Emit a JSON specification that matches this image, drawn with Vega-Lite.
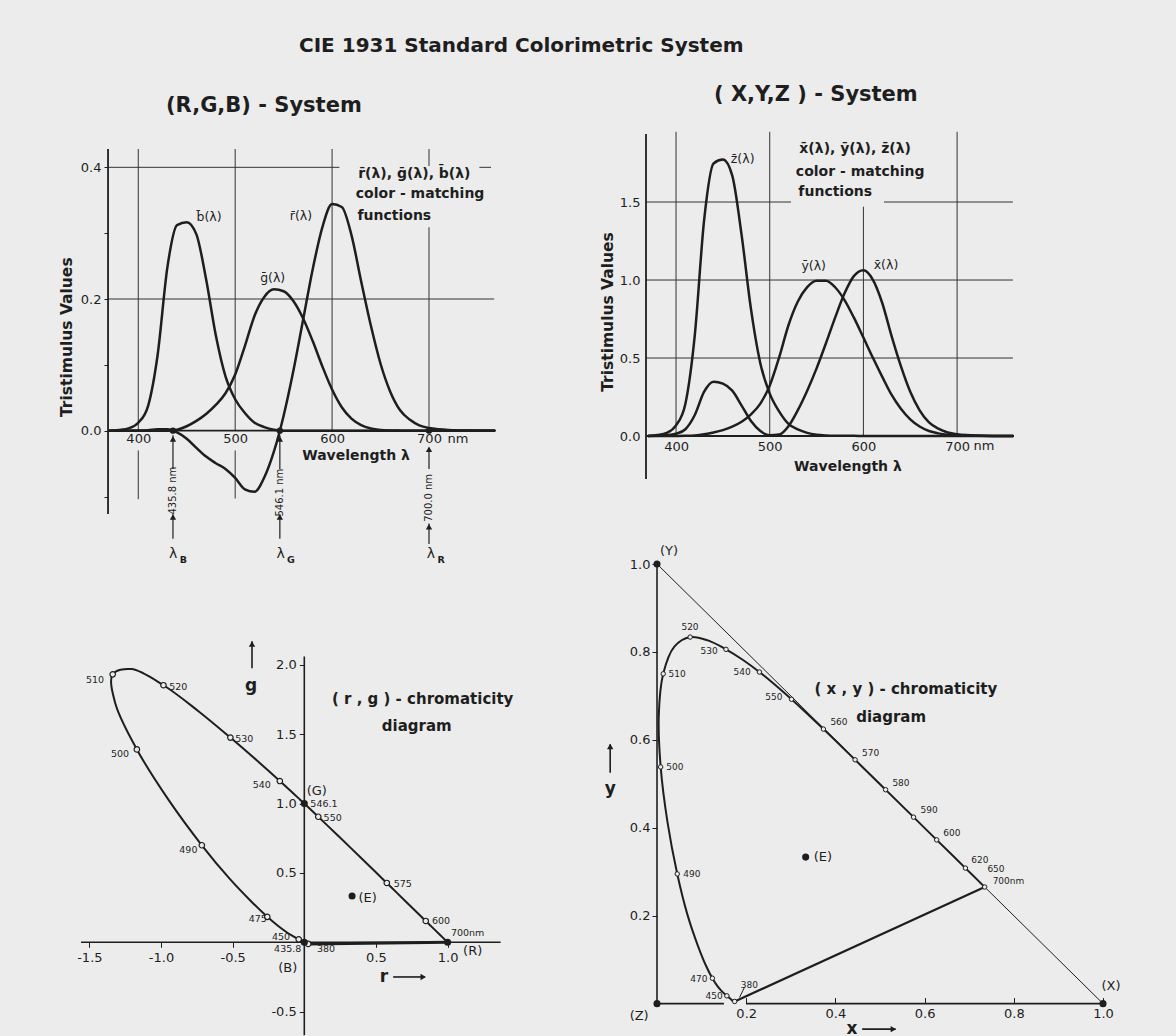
{
"$schema": "https://vega.github.io/schema/vega-lite/v6.json",
"background": "#ececec",
"padding": {"left": 60, "top": 36, "right": 70, "bottom": 12},
"title": {"text": "CIE 1931 Standard Colorimetric System", "anchor": "start", "frame": "group", "dx": 218, "offset": 28, "fontSize": 20, "font": "DejaVu Sans", "fontWeight": "bold", "color": "#1e1e1e"},
"config": {
  "font": "DejaVu Sans",
  "view": {"stroke": null},
  "axis": {"domain": false, "grid": false, "labelFont": "DejaVu Sans", "labelColor": "#1e1e1e", "tickColor": "#1e1e1e", "labelFontSize": 13},
  "text": {"font": "DejaVu Sans", "color": "#1e1e1e"},
  "rule": {"color": "#1e1e1e"},
  "line": {"color": "#1e1e1e"},
  "point": {"color": "#1e1e1e", "opacity": 1}
},
"datasets": {
  "rgb": [
    {"wl":370,"r":0,"g":0,"b":0},
    {"wl":380,"r":0.00003,"g":0,"b":0.00117},
    {"wl":390,"r":0.0001,"g":0,"b":0.00359},
    {"wl":400,"r":0.0003,"g":0,"b":0.01214},
    {"wl":410,"r":0.00084,"g":0,"b":0.03707},
    {"wl":420,"r":0.00211,"g":0,"b":0.11541},
    {"wl":430,"r":0.00218,"g":0,"b":0.24769},
    {"wl":440,"r":-0.00261,"g":0.00149,"b":0.31228},
    {"wl":450,"r":-0.01213,"g":0.00678,"b":0.3167},
    {"wl":460,"r":-0.02608,"g":0.01485,"b":0.29821},
    {"wl":470,"r":-0.03933,"g":0.02538,"b":0.22991},
    {"wl":480,"r":-0.04939,"g":0.03914,"b":0.14494},
    {"wl":490,"r":-0.05814,"g":0.05689,"b":0.08257},
    {"wl":500,"r":-0.07173,"g":0.08536,"b":0.04776},
    {"wl":510,"r":-0.08901,"g":0.1286,"b":0.02698},
    {"wl":520,"r":-0.09264,"g":0.17468,"b":0.01221},
    {"wl":530,"r":-0.07101,"g":0.20317,"b":0.00549},
    {"wl":540,"r":-0.03152,"g":0.21466,"b":0.00146},
    {"wl":550,"r":0.02279,"g":0.21178,"b":0},
    {"wl":560,"r":0.0906,"g":0.19702,"b":0},
    {"wl":570,"r":0.16768,"g":0.17087,"b":0},
    {"wl":580,"r":0.24526,"g":0.1361,"b":0},
    {"wl":590,"r":0.30928,"g":0.09754,"b":0},
    {"wl":600,"r":0.34429,"g":0.06246,"b":0},
    {"wl":610,"r":0.33971,"g":0.03557,"b":0},
    {"wl":620,"r":0.29708,"g":0.01828,"b":0},
    {"wl":630,"r":0.22677,"g":0.00833,"b":0},
    {"wl":640,"r":0.15968,"g":0.00334,"b":0},
    {"wl":650,"r":0.10167,"g":0.00116,"b":0},
    {"wl":660,"r":0.05932,"g":0.00037,"b":0},
    {"wl":670,"r":0.03149,"g":0.00011,"b":0},
    {"wl":680,"r":0.01687,"g":0.00003,"b":0},
    {"wl":690,"r":0.00819,"g":0,"b":0},
    {"wl":700,"r":0.0041,"g":0,"b":0},
    {"wl":710,"r":0.00211,"g":0,"b":0},
    {"wl":720,"r":0.00105,"g":0,"b":0},
    {"wl":740,"r":0.00025,"g":0,"b":0},
    {"wl":768,"r":0,"g":0,"b":0}
  ],
  "xyz": [
    {"wl":370,"x":0,"y":0,"z":0},
    {"wl":380,"x":0.0014,"y":0,"z":0.0065},
    {"wl":390,"x":0.0042,"y":0.0001,"z":0.0201},
    {"wl":400,"x":0.0143,"y":0.0004,"z":0.0679},
    {"wl":410,"x":0.0435,"y":0.0012,"z":0.2074},
    {"wl":420,"x":0.1344,"y":0.004,"z":0.6456},
    {"wl":430,"x":0.2839,"y":0.0116,"z":1.3856},
    {"wl":440,"x":0.3483,"y":0.023,"z":1.7471},
    {"wl":450,"x":0.3362,"y":0.038,"z":1.7721},
    {"wl":460,"x":0.2908,"y":0.06,"z":1.6692},
    {"wl":470,"x":0.1954,"y":0.091,"z":1.2876},
    {"wl":480,"x":0.0956,"y":0.139,"z":0.813},
    {"wl":490,"x":0.032,"y":0.208,"z":0.4652},
    {"wl":500,"x":0.0049,"y":0.323,"z":0.272},
    {"wl":510,"x":0.0093,"y":0.503,"z":0.1582},
    {"wl":520,"x":0.0633,"y":0.71,"z":0.0782},
    {"wl":530,"x":0.1655,"y":0.862,"z":0.0422},
    {"wl":540,"x":0.2904,"y":0.954,"z":0.0203},
    {"wl":550,"x":0.4334,"y":0.995,"z":0.0087},
    {"wl":560,"x":0.5945,"y":0.995,"z":0.0039},
    {"wl":570,"x":0.7621,"y":0.952,"z":0.0021},
    {"wl":580,"x":0.9163,"y":0.87,"z":0.0017},
    {"wl":590,"x":1.0263,"y":0.757,"z":0.0011},
    {"wl":600,"x":1.0622,"y":0.631,"z":0.0008},
    {"wl":610,"x":1.0026,"y":0.503,"z":0.0003},
    {"wl":620,"x":0.8544,"y":0.381,"z":0.0002},
    {"wl":630,"x":0.6424,"y":0.265,"z":0},
    {"wl":640,"x":0.4479,"y":0.175,"z":0},
    {"wl":650,"x":0.2835,"y":0.107,"z":0},
    {"wl":660,"x":0.1649,"y":0.061,"z":0},
    {"wl":670,"x":0.0874,"y":0.032,"z":0},
    {"wl":680,"x":0.0468,"y":0.017,"z":0},
    {"wl":690,"x":0.0227,"y":0.0082,"z":0},
    {"wl":700,"x":0.0114,"y":0.0041,"z":0},
    {"wl":710,"x":0.0058,"y":0.0021,"z":0},
    {"wl":720,"x":0.0029,"y":0.001,"z":0},
    {"wl":740,"x":0.0007,"y":0.0002,"z":0},
    {"wl":760,"x":0,"y":0,"z":0}
  ],
  "rg_locus": [
    {"wl":380,"x":0.0272,"y":-0.0115},
    {"wl":400,"x":0.0244,"y":-0.0114},
    {"wl":420,"x":0.0181,"y":-0.0094},
    {"wl":430,"x":0.0088,"y":-0.0048},
    {"wl":435.8,"x":0,"y":0},
    {"wl":440,"x":-0.0084,"y":0.0048},
    {"wl":450,"x":-0.039,"y":0.0218},
    {"wl":460,"x":-0.0909,"y":0.0517},
    {"wl":465,"x":-0.1281,"y":0.0762},
    {"wl":470,"x":-0.1821,"y":0.1175},
    {"wl":475,"x":-0.2584,"y":0.1839},
    {"wl":480,"x":-0.3667,"y":0.2906},
    {"wl":485,"x":-0.5199,"y":0.4568},
    {"wl":490,"x":-0.715,"y":0.6996},
    {"wl":495,"x":-0.946,"y":1.0248},
    {"wl":500,"x":-1.1684,"y":1.3904},
    {"wl":505,"x":-1.318,"y":1.7194},
    {"wl":510,"x":-1.3371,"y":1.9318},
    {"wl":515,"x":-1.2075,"y":1.9698},
    {"wl":520,"x":-0.9829,"y":1.8534},
    {"wl":525,"x":-0.7387,"y":1.6663},
    {"wl":530,"x":-0.5159,"y":1.476},
    {"wl":535,"x":-0.3305,"y":1.3106},
    {"wl":540,"x":-0.1707,"y":1.1628},
    {"wl":545,"x":-0.0293,"y":1.0282},
    {"wl":546.1,"x":0,"y":1},
    {"wl":550,"x":0.0974,"y":0.9051},
    {"wl":555,"x":0.2121,"y":0.7919},
    {"wl":560,"x":0.3164,"y":0.6881},
    {"wl":570,"x":0.4973,"y":0.5067},
    {"wl":575,"x":0.5758,"y":0.4276},
    {"wl":580,"x":0.6449,"y":0.3579},
    {"wl":590,"x":0.7617,"y":0.2402},
    {"wl":600,"x":0.8475,"y":0.1537},
    {"wl":610,"x":0.9059,"y":0.0949},
    {"wl":620,"x":0.9425,"y":0.058},
    {"wl":630,"x":0.9649,"y":0.0354},
    {"wl":640,"x":0.9797,"y":0.0205},
    {"wl":650,"x":0.9887,"y":0.0113},
    {"wl":660,"x":0.9938,"y":0.0062},
    {"wl":680,"x":0.999,"y":0.0015},
    {"wl":700,"x":1,"y":0}
  ],
  "rg_open": [
    {"wl":380,"x":0.0272,"y":-0.0115},
    {"wl":450,"x":-0.039,"y":0.0218},
    {"wl":475,"x":-0.2584,"y":0.1839},
    {"wl":490,"x":-0.715,"y":0.6996},
    {"wl":500,"x":-1.1684,"y":1.3904},
    {"wl":510,"x":-1.3371,"y":1.9318},
    {"wl":520,"x":-0.9829,"y":1.8534},
    {"wl":530,"x":-0.5159,"y":1.476},
    {"wl":540,"x":-0.1707,"y":1.1628},
    {"wl":550,"x":0.0974,"y":0.9051},
    {"wl":575,"x":0.5758,"y":0.4276},
    {"wl":600,"x":0.8475,"y":0.1537}
  ],
  "xy_locus": [
    {"wl":380,"x":0.1741,"y":0.005},
    {"wl":390,"x":0.1738,"y":0.0049},
    {"wl":400,"x":0.1733,"y":0.0048},
    {"wl":410,"x":0.1726,"y":0.0048},
    {"wl":420,"x":0.1714,"y":0.0051},
    {"wl":430,"x":0.1689,"y":0.0069},
    {"wl":440,"x":0.1644,"y":0.0109},
    {"wl":450,"x":0.1566,"y":0.0177},
    {"wl":460,"x":0.144,"y":0.0297},
    {"wl":465,"x":0.1355,"y":0.0399},
    {"wl":470,"x":0.1241,"y":0.0578},
    {"wl":475,"x":0.1096,"y":0.0868},
    {"wl":480,"x":0.0913,"y":0.1327},
    {"wl":485,"x":0.0687,"y":0.2007},
    {"wl":490,"x":0.0454,"y":0.295},
    {"wl":495,"x":0.0235,"y":0.4127},
    {"wl":500,"x":0.0082,"y":0.5384},
    {"wl":505,"x":0.0039,"y":0.6548},
    {"wl":510,"x":0.0139,"y":0.7502},
    {"wl":515,"x":0.0389,"y":0.812},
    {"wl":520,"x":0.0743,"y":0.8338},
    {"wl":525,"x":0.1142,"y":0.8262},
    {"wl":530,"x":0.1547,"y":0.8059},
    {"wl":535,"x":0.1929,"y":0.7816},
    {"wl":540,"x":0.2296,"y":0.7543},
    {"wl":545,"x":0.2658,"y":0.7243},
    {"wl":550,"x":0.3016,"y":0.6923},
    {"wl":560,"x":0.3731,"y":0.6245},
    {"wl":570,"x":0.4441,"y":0.5547},
    {"wl":580,"x":0.5125,"y":0.4866},
    {"wl":590,"x":0.5752,"y":0.4242},
    {"wl":600,"x":0.627,"y":0.3725},
    {"wl":610,"x":0.6658,"y":0.334},
    {"wl":620,"x":0.6915,"y":0.3083},
    {"wl":630,"x":0.7079,"y":0.292},
    {"wl":640,"x":0.719,"y":0.2809},
    {"wl":650,"x":0.726,"y":0.274},
    {"wl":660,"x":0.73,"y":0.27},
    {"wl":680,"x":0.7334,"y":0.2666},
    {"wl":700,"x":0.7347,"y":0.2653}
  ],
  "xy_open": [
    {"wl":380,"x":0.1741,"y":0.005},
    {"wl":450,"x":0.1566,"y":0.0177},
    {"wl":470,"x":0.1241,"y":0.0578},
    {"wl":490,"x":0.0454,"y":0.295},
    {"wl":500,"x":0.0082,"y":0.5384},
    {"wl":510,"x":0.0139,"y":0.7502},
    {"wl":520,"x":0.0743,"y":0.8338},
    {"wl":530,"x":0.1547,"y":0.8059},
    {"wl":540,"x":0.2296,"y":0.7543},
    {"wl":550,"x":0.3016,"y":0.6923},
    {"wl":560,"x":0.3731,"y":0.6245},
    {"wl":570,"x":0.4441,"y":0.5547},
    {"wl":580,"x":0.5125,"y":0.4866},
    {"wl":590,"x":0.5752,"y":0.4242},
    {"wl":600,"x":0.627,"y":0.3725},
    {"wl":620,"x":0.6915,"y":0.3083},
    {"wl":700,"x":0.7347,"y":0.2653}
  ],
  "p1_grid": [
    {"x":400,"x2":400,"y":0,"y2":0.4278},
    {"x":400,"x2":400,"y":-0.104,"y2":-0.03},
    {"x":500,"x2":500,"y":0,"y2":0.4278},
    {"x":500,"x2":500,"y":-0.103,"y2":-0.03},
    {"x":600,"x2":600,"y":0,"y2":0.4278},
    {"x":700,"x2":700,"y":0.402,"y2":0.4278},
    {"x":700,"x2":700,"y":0,"y2":0.309},
    {"x":368.8,"x2":607.5,"y":0.4,"y2":0.4},
    {"x":752,"x2":764,"y":0.4,"y2":0.4},
    {"x":368.8,"x2":767.3,"y":0.2,"y2":0.2}
  ],
  "p1_axes": [
    {"x":368.8,"x2":368.8,"y":-0.1265,"y2":0.4278},
    {"x":368.8,"x2":769.1,"y":0,"y2":0}
  ],
  "p1_arrows": [
    {"x":435.8,"x2":435.8,"y":-0.007,"y2":-0.058},
    {"x":435.8,"x2":435.8,"y":-0.127,"y2":-0.164},
    {"x":546.1,"x2":546.1,"y":-0.007,"y2":-0.058},
    {"x":546.1,"x2":546.1,"y":-0.127,"y2":-0.164},
    {"x":700,"x2":700,"y":-0.028,"y2":-0.058},
    {"x":700,"x2":700,"y":-0.141,"y2":-0.172}
  ],
  "p1_heads": [
    {"x":435.8,"y":-0.0126},{"x":435.8,"y":-0.131},
    {"x":546.1,"y":-0.0126},{"x":546.1,"y":-0.131},
    {"x":700,"y":-0.028},{"x":700,"y":-0.146}
  ],
  "p1_dots": [{"x":435.8,"y":0},{"x":546.1,"y":0},{"x":700,"y":0}],
  "p1_curvelab": [
    {"x":473,"y":0.3242,"text":"b\u0304(\u03bb)"},
    {"x":567.9,"y":0.3265,"text":"r\u0304(\u03bb)"},
    {"x":538.7,"y":0.2314,"text":"g\u0304(\u03bb)"}
  ],
  "p1_block": [
    {"x":684.9,"y":0.3898,"text":"r\u0304(\u03bb), g\u0304(\u03bb), b\u0304(\u03bb)"},
    {"x":690.8,"y":0.3594,"text":"color - matching"},
    {"x":664.2,"y":0.3256,"text":"functions"},
    {"x":624.7,"y":-0.039,"text":"Wavelength \u03bb"}
  ],
  "p1_unit": [{"x":730,"y":-0.0127,"text":"nm"}],
  "p1_ytitle": [{"x":326.5,"y":0.142,"text":"Tristimulus Values"}],
  "p1_nm": [
    {"x":435.8,"y":-0.091,"text":"435.8 nm"},
    {"x":546.1,"y":-0.094,"text":"546.1 nm"},
    {"x":700,"y":-0.102,"text":"700.0 nm"}
  ],
  "p1_lam": [
    {"x":436,"y":-0.187,"text":"\u03bb"},
    {"x":547,"y":-0.187,"text":"\u03bb"},
    {"x":702,"y":-0.187,"text":"\u03bb"}
  ],
  "p1_sub": [
    {"x":446.5,"y":-0.197,"text":"B"},
    {"x":557.5,"y":-0.197,"text":"G"},
    {"x":712.5,"y":-0.197,"text":"R"}
  ],
  "p2_grid": [
    {"x":400,"x2":400,"y":0,"y2":1.95},
    {"x":500,"x2":500,"y":0,"y2":1.95},
    {"x":600,"x2":600,"y":0,"y2":1.47},
    {"x":700,"x2":700,"y":0,"y2":1.95},
    {"x":367.94,"x2":759.6,"y":0.5,"y2":0.5},
    {"x":367.94,"x2":759.6,"y":1,"y2":1},
    {"x":367.94,"x2":522.7,"y":1.5,"y2":1.5},
    {"x":622,"x2":759.6,"y":1.5,"y2":1.5}
  ],
  "p2_axes": [
    {"x":367.94,"x2":367.94,"y":-0.2755,"y2":1.936},
    {"x":367.94,"x2":760.7,"y":0,"y2":0}
  ],
  "p2_curvelab": [
    {"x":471.1,"y":1.776,"text":"z\u0304(\u03bb)"},
    {"x":546.9,"y":1.092,"text":"y\u0304(\u03bb)"},
    {"x":624.1,"y":1.096,"text":"x\u0304(\u03bb)"}
  ],
  "p2_block": [
    {"x":591.2,"y":1.84,"text":"x\u0304(\u03bb), y\u0304(\u03bb), z\u0304(\u03bb)"},
    {"x":596.5,"y":1.694,"text":"color - matching"},
    {"x":569.9,"y":1.562,"text":"functions"},
    {"x":583.5,"y":-0.199,"text":"Wavelength \u03bb"}
  ],
  "p2_unit": [{"x":728.7,"y":-0.067,"text":"nm"}],
  "p2_ytitle": [{"x":327.4,"y":0.795,"text":"Tristimulus Values"}],
  "p3_axes": [
    {"x":-1.5583,"x2":1.37,"y":0,"y2":0},
    {"x":0,"x2":0,"y":-0.67,"y2":2.06},
    {"x":-0.365,"x2":-0.365,"y":1.975,"y2":2.17},
    {"x":0.62,"x2":0.84,"y":-0.25,"y2":-0.25}
  ],
  "p3_purple": [{"x":1,"x2":0.0272,"y":0,"y2":-0.0115}],
  "p3_headup": [{"x":-0.365,"y":2.15}],
  "p3_headright": [{"x":0.83,"y":-0.25}],
  "p3_filled": [{"x":0,"y":1},{"x":1,"y":0},{"x":0,"y":0},{"x":0.3333,"y":0.3333}],
  "p3_small": [
    {"x":-1.461,"y":1.893,"text":"510"},
    {"x":-0.879,"y":1.838,"text":"520"},
    {"x":-0.419,"y":1.466,"text":"530"},
    {"x":-1.286,"y":1.358,"text":"500"},
    {"x":-0.297,"y":1.134,"text":"540"},
    {"x":0.137,"y":0.997,"text":"546.1"},
    {"x":0.198,"y":0.894,"text":"550"},
    {"x":-0.809,"y":0.665,"text":"490"},
    {"x":0.687,"y":0.42,"text":"575"},
    {"x":-0.325,"y":0.168,"text":"475"},
    {"x":0.954,"y":0.156,"text":"600"},
    {"x":1.14,"y":0.067,"text":"700nm"},
    {"x":-0.163,"y":0.036,"text":"450"},
    {"x":-0.116,"y":-0.048,"text":"435.8"},
    {"x":0.151,"y":-0.048,"text":"380"}
  ],
  "p3_mid": [
    {"x":0.087,"y":1.089,"text":"(G)"},
    {"x":0.442,"y":0.317,"text":"(E)"},
    {"x":1.175,"y":-0.065,"text":"(R)"},
    {"x":-0.116,"y":-0.188,"text":"(B)"}
  ],
  "p3_big": [
    {"x":0.826,"y":1.754,"text":"( r , g ) - chromaticity"},
    {"x":0.785,"y":1.562,"text":"diagram"}
  ],
  "p3_letters": [
    {"x":-0.372,"y":1.846,"text":"g"},
    {"x":0.556,"y":-0.25,"text":"r"}
  ],
  "p4_axes": [
    {"x":0,"x2":0,"y":0,"y2":1},
    {"x":0,"x2":0.15,"y":0,"y2":0},
    {"x":0.2,"x2":1,"y":0,"y2":0},
    {"x":-0.105,"x2":-0.105,"y":0.525,"y2":0.59},
    {"x":0.46,"x2":0.535,"y":-0.058,"y2":-0.058}
  ],
  "p4_thin": [
    {"x":0,"x2":1,"y":1,"y2":0},
    {"x":0.185,"x2":0.196,"y":0.014,"y2":0.037}
  ],
  "p4_purple": [{"x":0.1741,"x2":0.7347,"y":0.005,"y2":0.2653}],
  "p4_headup": [{"x":-0.105,"y":0.585}],
  "p4_headright": [{"x":0.53,"y":-0.058}],
  "p4_filled": [{"x":0,"y":1},{"x":1,"y":0},{"x":0,"y":0},{"x":0.3333,"y":0.3333}],
  "p4_small": [
    {"x":0.074,"y":0.856,"text":"520"},
    {"x":0.117,"y":0.801,"text":"530"},
    {"x":0.191,"y":0.754,"text":"540"},
    {"x":0.262,"y":0.697,"text":"550"},
    {"x":0.408,"y":0.641,"text":"560"},
    {"x":0.479,"y":0.57,"text":"570"},
    {"x":0.547,"y":0.502,"text":"580"},
    {"x":0.61,"y":0.44,"text":"590"},
    {"x":0.661,"y":0.388,"text":"600"},
    {"x":0.724,"y":0.327,"text":"620"},
    {"x":0.76,"y":0.306,"text":"650"},
    {"x":0.788,"y":0.28,"text":"700nm"},
    {"x":0.045,"y":0.75,"text":"510"},
    {"x":0.04,"y":0.538,"text":"500"},
    {"x":0.078,"y":0.295,"text":"490"},
    {"x":0.094,"y":0.056,"text":"470"},
    {"x":0.128,"y":0.017,"text":"450"},
    {"x":0.207,"y":0.042,"text":"380"}
  ],
  "p4_mid": [
    {"x":0.027,"y":1.03,"text":"(Y)"},
    {"x":1.018,"y":0.04,"text":"(X)"},
    {"x":-0.04,"y":-0.029,"text":"(Z)"},
    {"x":0.372,"y":0.333,"text":"(E)"}
  ],
  "p4_big": [
    {"x":0.558,"y":0.716,"text":"( x , y ) - chromaticity"},
    {"x":0.525,"y":0.652,"text":"diagram"}
  ],
  "p4_letters": [
    {"x":-0.105,"y":0.488,"text":"y"},
    {"x":0.437,"y":-0.058,"text":"x"}
  ]
},
"bounds": "flush",
"align": "each",
"columns": 2,
"spacing": {"row": 25, "column": 140},
"concat": [
  {
    "width": 420, "height": 380,
    "title": {"text": "(R,G,B) - System", "anchor": "start", "frame": "group", "dx": 85, "offset": 18, "fontSize": 21, "fontWeight": "bold", "font": "DejaVu Sans", "color": "#1e1e1e"},
    "layer": [
      {"data": {"name": "p1_grid"}, "mark": {"type": "rule", "strokeWidth": 1, "color": "#333333"},
       "encoding": {
         "x": {"field": "x", "type": "quantitative", "scale": {"domain": [340.9, 774.3], "nice": false, "zero": false},
               "axis": {"title": null, "values": [400, 500, 600, 700], "ticks": false, "offset": -83.3, "labelPadding": 2}},
         "y": {"field": "y", "type": "quantitative", "scale": {"domain": [-0.1265, 0.4506], "nice": false, "zero": false},
               "axis": {"title": null, "values": [-0.1, 0, 0.1, 0.2, 0.3, 0.4], "tickSize": 4, "offset": -27, "labelPadding": 3,
                        "labelExpr": "(datum.value == 0 || datum.value == 0.2 || datum.value == 0.4) ? format(datum.value, '.1f') : ''"}},
         "x2": {"field": "x2"}, "y2": {"field": "y2"}}},
      {"data": {"name": "p1_axes"}, "mark": {"type": "rule", "strokeWidth": 1.8},
       "encoding": {"x": {"field": "x", "type": "quantitative"}, "y": {"field": "y", "type": "quantitative"}, "x2": {"field": "x2"}, "y2": {"field": "y2"}}},
      {"data": {"name": "p1_arrows"}, "mark": {"type": "rule", "strokeWidth": 1.2},
       "encoding": {"x": {"field": "x", "type": "quantitative"}, "y": {"field": "y", "type": "quantitative"}, "x2": {"field": "x2"}, "y2": {"field": "y2"}}},
      {"data": {"name": "rgb"}, "transform": [{"fold": ["r", "g", "b"], "as": ["fn", "v"]}],
       "mark": {"type": "line", "interpolate": "monotone", "strokeWidth": 2.5},
       "encoding": {"x": {"field": "wl", "type": "quantitative"}, "y": {"field": "v", "type": "quantitative"}, "detail": {"field": "fn"}}},
      {"data": {"name": "p1_heads"}, "mark": {"type": "point", "shape": "triangle-up", "filled": true, "size": 40},
       "encoding": {"x": {"field": "x", "type": "quantitative"}, "y": {"field": "y", "type": "quantitative"}}},
      {"data": {"name": "p1_dots"}, "mark": {"type": "point", "shape": "circle", "filled": true, "size": 40},
       "encoding": {"x": {"field": "x", "type": "quantitative"}, "y": {"field": "y", "type": "quantitative"}}},
      {"data": {"name": "p1_curvelab"}, "mark": {"type": "text", "fontSize": 12.5},
       "encoding": {"x": {"field": "x", "type": "quantitative"}, "y": {"field": "y", "type": "quantitative"}, "text": {"field": "text"}}},
      {"data": {"name": "p1_block"}, "mark": {"type": "text", "fontSize": 14, "fontWeight": "bold"},
       "encoding": {"x": {"field": "x", "type": "quantitative"}, "y": {"field": "y", "type": "quantitative"}, "text": {"field": "text"}}},
      {"data": {"name": "p1_unit"}, "mark": {"type": "text", "fontSize": 13},
       "encoding": {"x": {"field": "x", "type": "quantitative"}, "y": {"field": "y", "type": "quantitative"}, "text": {"field": "text"}}},
      {"data": {"name": "p1_ytitle"}, "mark": {"type": "text", "fontSize": 15.5, "fontWeight": "bold", "angle": 270},
       "encoding": {"x": {"field": "x", "type": "quantitative"}, "y": {"field": "y", "type": "quantitative"}, "text": {"field": "text"}}},
      {"data": {"name": "p1_nm"}, "mark": {"type": "text", "fontSize": 10, "angle": 270},
       "encoding": {"x": {"field": "x", "type": "quantitative"}, "y": {"field": "y", "type": "quantitative"}, "text": {"field": "text"}}},
      {"data": {"name": "p1_lam"}, "mark": {"type": "text", "fontSize": 14},
       "encoding": {"x": {"field": "x", "type": "quantitative"}, "y": {"field": "y", "type": "quantitative"}, "text": {"field": "text"}}},
      {"data": {"name": "p1_sub"}, "mark": {"type": "text", "fontSize": 9.5, "fontWeight": "bold"},
       "encoding": {"x": {"field": "x", "type": "quantitative"}, "y": {"field": "y", "type": "quantitative"}, "text": {"field": "text"}}}
    ]
  },
  {
    "width": 380, "height": 345,
    "title": {"text": "( X,Y,Z ) - System", "anchor": "start", "frame": "group", "dx": 73, "offset": 26, "fontSize": 21, "fontWeight": "bold", "font": "DejaVu Sans", "color": "#1e1e1e"},
    "layer": [
      {"data": {"name": "p2_grid"}, "mark": {"type": "rule", "strokeWidth": 1, "color": "#333333"},
       "encoding": {
         "x": {"field": "x", "type": "quantitative", "scale": {"domain": [362.6, 768.2], "nice": false, "zero": false},
               "axis": {"title": null, "values": [400, 500, 600, 700], "ticks": false, "offset": -43, "labelPadding": 4}},
         "y": {"field": "y", "type": "quantitative", "scale": {"domain": [-0.2755, 1.936], "nice": false, "zero": false},
               "axis": {"title": null, "values": [0, 0.5, 1, 1.5], "ticks": false, "offset": -5, "labelPadding": 6, "format": ".1f"}},
         "x2": {"field": "x2"}, "y2": {"field": "y2"}}},
      {"data": {"name": "p2_axes"}, "mark": {"type": "rule", "strokeWidth": 1.8},
       "encoding": {"x": {"field": "x", "type": "quantitative"}, "y": {"field": "y", "type": "quantitative"}, "x2": {"field": "x2"}, "y2": {"field": "y2"}}},
      {"data": {"name": "xyz"}, "transform": [{"fold": ["x", "y", "z"], "as": ["fn", "v"]}],
       "mark": {"type": "line", "interpolate": "monotone", "strokeWidth": 2.5},
       "encoding": {"x": {"field": "wl", "type": "quantitative"}, "y": {"field": "v", "type": "quantitative"}, "detail": {"field": "fn"}}},
      {"data": {"name": "p2_curvelab"}, "mark": {"type": "text", "fontSize": 12.5},
       "encoding": {"x": {"field": "x", "type": "quantitative"}, "y": {"field": "y", "type": "quantitative"}, "text": {"field": "text"}}},
      {"data": {"name": "p2_block"}, "mark": {"type": "text", "fontSize": 14, "fontWeight": "bold"},
       "encoding": {"x": {"field": "x", "type": "quantitative"}, "y": {"field": "y", "type": "quantitative"}, "text": {"field": "text"}}},
      {"data": {"name": "p2_unit"}, "mark": {"type": "text", "fontSize": 13},
       "encoding": {"x": {"field": "x", "type": "quantitative"}, "y": {"field": "y", "type": "quantitative"}, "text": {"field": "text"}}},
      {"data": {"name": "p2_ytitle"}, "mark": {"type": "text", "fontSize": 15.5, "fontWeight": "bold", "angle": 270},
       "encoding": {"x": {"field": "x", "type": "quantitative"}, "y": {"field": "y", "type": "quantitative"}, "text": {"field": "text"}}}
    ]
  },
  {
    "width": 420, "height": 485,
    "layer": [
      {"data": {"name": "p3_axes"}, "mark": {"type": "rule", "strokeWidth": 1.6},
       "encoding": {
         "x": {"field": "x", "type": "quantitative", "scale": {"domain": [-1.5583, 1.3726], "nice": false, "zero": false},
               "axis": {"title": null, "values": [-1.5, -1, -0.5, 0.5, 1], "tickSize": 5, "offset": -81.7, "labelPadding": 4,
                        "labelExpr": "datum.value < 0 ? '-' + format(-datum.value, '.1f') : format(datum.value, '.1f')"}},
         "y": {"field": "y", "type": "quantitative", "scale": {"domain": [-0.5891, 2.9077], "nice": false, "zero": false},
               "axis": {"title": null, "values": [-0.5, 0.5, 1, 1.5, 2], "tickSize": 5, "offset": -223.3, "labelPadding": 3,
                        "labelExpr": "datum.value < 0 ? '-' + format(-datum.value, '.1f') : format(datum.value, '.1f')"}},
         "x2": {"field": "x2"}, "y2": {"field": "y2"}}},
      {"data": {"name": "p3_purple"}, "mark": {"type": "rule", "strokeWidth": 3},
       "encoding": {"x": {"field": "x", "type": "quantitative"}, "y": {"field": "y", "type": "quantitative"}, "x2": {"field": "x2"}, "y2": {"field": "y2"}}},
      {"data": {"name": "rg_locus"}, "mark": {"type": "line", "interpolate": "catmull-rom", "strokeWidth": 2},
       "encoding": {"x": {"field": "x", "type": "quantitative"}, "y": {"field": "y", "type": "quantitative"}, "order": {"field": "wl", "type": "quantitative"}}},
      {"data": {"name": "rg_open"}, "mark": {"type": "point", "shape": "circle", "filled": true, "fill": "#ececec", "stroke": "#1e1e1e", "strokeWidth": 1.2, "size": 30},
       "encoding": {"x": {"field": "x", "type": "quantitative"}, "y": {"field": "y", "type": "quantitative"}}},
      {"data": {"name": "p3_filled"}, "mark": {"type": "point", "shape": "circle", "filled": true, "size": 50},
       "encoding": {"x": {"field": "x", "type": "quantitative"}, "y": {"field": "y", "type": "quantitative"}}},
      {"data": {"name": "p3_headup"}, "mark": {"type": "point", "shape": "triangle-up", "filled": true, "size": 40},
       "encoding": {"x": {"field": "x", "type": "quantitative"}, "y": {"field": "y", "type": "quantitative"}}},
      {"data": {"name": "p3_headright"}, "mark": {"type": "point", "shape": "triangle-right", "filled": true, "size": 40},
       "encoding": {"x": {"field": "x", "type": "quantitative"}, "y": {"field": "y", "type": "quantitative"}}},
      {"data": {"name": "p3_small"}, "mark": {"type": "text", "fontSize": 9.5},
       "encoding": {"x": {"field": "x", "type": "quantitative"}, "y": {"field": "y", "type": "quantitative"}, "text": {"field": "text"}}},
      {"data": {"name": "p3_mid"}, "mark": {"type": "text", "fontSize": 13},
       "encoding": {"x": {"field": "x", "type": "quantitative"}, "y": {"field": "y", "type": "quantitative"}, "text": {"field": "text"}}},
      {"data": {"name": "p3_big"}, "mark": {"type": "text", "fontSize": 15, "fontWeight": "bold"},
       "encoding": {"x": {"field": "x", "type": "quantitative"}, "y": {"field": "y", "type": "quantitative"}, "text": {"field": "text"}}},
      {"data": {"name": "p3_letters"}, "mark": {"type": "text", "fontSize": 17, "fontWeight": "bold"},
       "encoding": {"x": {"field": "x", "type": "quantitative"}, "y": {"field": "y", "type": "quantitative"}, "text": {"field": "text"}}}
    ]
  },
  {
    "width": 470, "height": 490,
    "layer": [
      {"data": {"name": "p4_axes"}, "mark": {"type": "rule", "strokeWidth": 1.6},
       "encoding": {
         "x": {"field": "x", "type": "quantitative", "scale": {"domain": [-0.0359, 1.0179], "nice": false, "zero": false},
               "axis": {"title": null, "values": [0.2, 0.4, 0.6, 0.8, 1], "format": ".1f", "tickSize": -6, "offset": -25.4, "labelPadding": 10}},
         "y": {"field": "y", "type": "quantitative", "scale": {"domain": [-0.0577, 1.0569], "nice": false, "zero": false},
               "axis": {"title": null, "values": [0.2, 0.4, 0.6, 0.8, 1], "format": ".1f", "tickSize": 5, "offset": -16, "labelPadding": 2}},
         "x2": {"field": "x2"}, "y2": {"field": "y2"}}},
      {"data": {"name": "p4_thin"}, "mark": {"type": "rule", "strokeWidth": 1},
       "encoding": {"x": {"field": "x", "type": "quantitative"}, "y": {"field": "y", "type": "quantitative"}, "x2": {"field": "x2"}, "y2": {"field": "y2"}}},
      {"data": {"name": "p4_purple"}, "mark": {"type": "rule", "strokeWidth": 2.2},
       "encoding": {"x": {"field": "x", "type": "quantitative"}, "y": {"field": "y", "type": "quantitative"}, "x2": {"field": "x2"}, "y2": {"field": "y2"}}},
      {"data": {"name": "xy_locus"}, "mark": {"type": "line", "interpolate": "catmull-rom", "strokeWidth": 2},
       "encoding": {"x": {"field": "x", "type": "quantitative"}, "y": {"field": "y", "type": "quantitative"}, "order": {"field": "wl", "type": "quantitative"}}},
      {"data": {"name": "xy_open"}, "mark": {"type": "point", "shape": "circle", "filled": true, "fill": "#ececec", "stroke": "#1e1e1e", "strokeWidth": 1, "size": 20},
       "encoding": {"x": {"field": "x", "type": "quantitative"}, "y": {"field": "y", "type": "quantitative"}}},
      {"data": {"name": "p4_filled"}, "mark": {"type": "point", "shape": "circle", "filled": true, "size": 50},
       "encoding": {"x": {"field": "x", "type": "quantitative"}, "y": {"field": "y", "type": "quantitative"}}},
      {"data": {"name": "p4_headup"}, "mark": {"type": "point", "shape": "triangle-up", "filled": true, "size": 40},
       "encoding": {"x": {"field": "x", "type": "quantitative"}, "y": {"field": "y", "type": "quantitative"}}},
      {"data": {"name": "p4_headright"}, "mark": {"type": "point", "shape": "triangle-right", "filled": true, "size": 40},
       "encoding": {"x": {"field": "x", "type": "quantitative"}, "y": {"field": "y", "type": "quantitative"}}},
      {"data": {"name": "p4_small"}, "mark": {"type": "text", "fontSize": 9},
       "encoding": {"x": {"field": "x", "type": "quantitative"}, "y": {"field": "y", "type": "quantitative"}, "text": {"field": "text"}}},
      {"data": {"name": "p4_mid"}, "mark": {"type": "text", "fontSize": 13},
       "encoding": {"x": {"field": "x", "type": "quantitative"}, "y": {"field": "y", "type": "quantitative"}, "text": {"field": "text"}}},
      {"data": {"name": "p4_big"}, "mark": {"type": "text", "fontSize": 15, "fontWeight": "bold"},
       "encoding": {"x": {"field": "x", "type": "quantitative"}, "y": {"field": "y", "type": "quantitative"}, "text": {"field": "text"}}},
      {"data": {"name": "p4_letters"}, "mark": {"type": "text", "fontSize": 17, "fontWeight": "bold"},
       "encoding": {"x": {"field": "x", "type": "quantitative"}, "y": {"field": "y", "type": "quantitative"}, "text": {"field": "text"}}}
    ]
  }
]
}
